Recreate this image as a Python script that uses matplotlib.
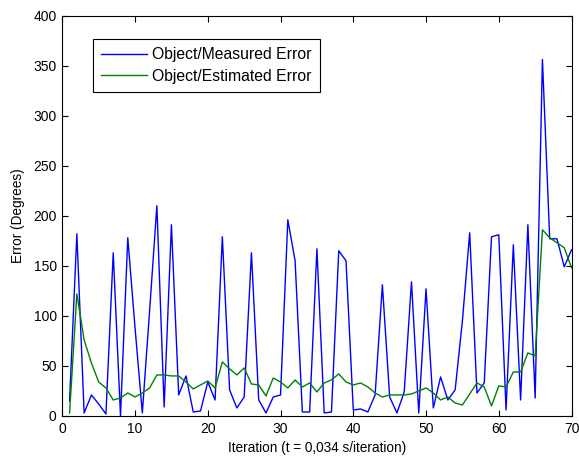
import numpy as np
from matplotlib import pyplot as plt

plt.rcParams['font.family'] = ['Liberation Sans', 'DejaVu Sans']
plt.rcParams['font.size'] = 10

# error per iteration, degrees
iteration = np.arange(1, 71)
measured_err = [
    15, 182, 3, 21, 12, 2, 163, 0, 178, 88,
    3, 105, 210, 9, 191, 21, 40, 4, 5, 34,
    16, 179, 26, 8, 19, 163, 16, 3, 19, 21,
    196, 155, 4, 4, 167, 3, 4, 165, 155, 6,
    7, 4, 21, 131, 19, 3, 24, 134, 3, 127,
    8, 39, 16, 26, 95, 183, 23, 33, 179, 181,
    6, 171, 16, 191, 18, 356, 177, 177, 149, 166,
]
estimated_err = [
    3, 122, 76, 53, 34, 28, 16, 18, 23, 19,
    23, 28, 41, 41, 40, 40, 34, 27, 31, 35,
    28, 54, 47, 41, 48, 32, 31, 20, 38, 34,
    28, 36, 29, 33, 24, 33, 36, 42, 34, 31,
    33, 29, 23, 19, 21, 21, 21, 22, 25, 28,
    23, 16, 19, 13, 11, 22, 33, 29, 10, 30,
    29, 44, 44, 63, 60, 186, 178, 173, 168, 148,
]

fig = plt.figure(figsize=(5.79, 4.59), dpi=100)
ax = fig.add_axes([0.1076, 0.0937, 0.8795, 0.8725])

ax.plot(iteration, measured_err, color=(0, 0, 1), lw=1.0, label='Object/Measured Error')
ax.plot(iteration, estimated_err, color=(0, 0.5, 0), lw=1.0, label='Object/Estimated Error')

ax.set_xlim(0, 70)
ax.set_ylim(0, 400)
ax.set_xticks(range(0, 71, 10))
ax.set_yticks(range(0, 401, 50))
ax.tick_params(direction='in', top=True, right=True, length=4, width=0.8, pad=4)
for s in ax.spines.values():
    s.set_linewidth(0.8)

ax.set_xlabel('Iteration (t = 0,034 s/iteration)', fontsize=9.8, labelpad=4)
ax.set_ylabel('Error (Degrees)', fontsize=9.8, labelpad=6)

leg = ax.legend(loc='upper left', bbox_to_anchor=(0.061, 0.9406), borderaxespad=0,
                fancybox=False, edgecolor='black', framealpha=1, fontsize=11.3,
                handlelength=2.9, handletextpad=0.35, borderpad=0.5,
                labelspacing=0.42)
leg.get_frame().set_linewidth(0.8)

fig.savefig('out.png', dpi=100)
